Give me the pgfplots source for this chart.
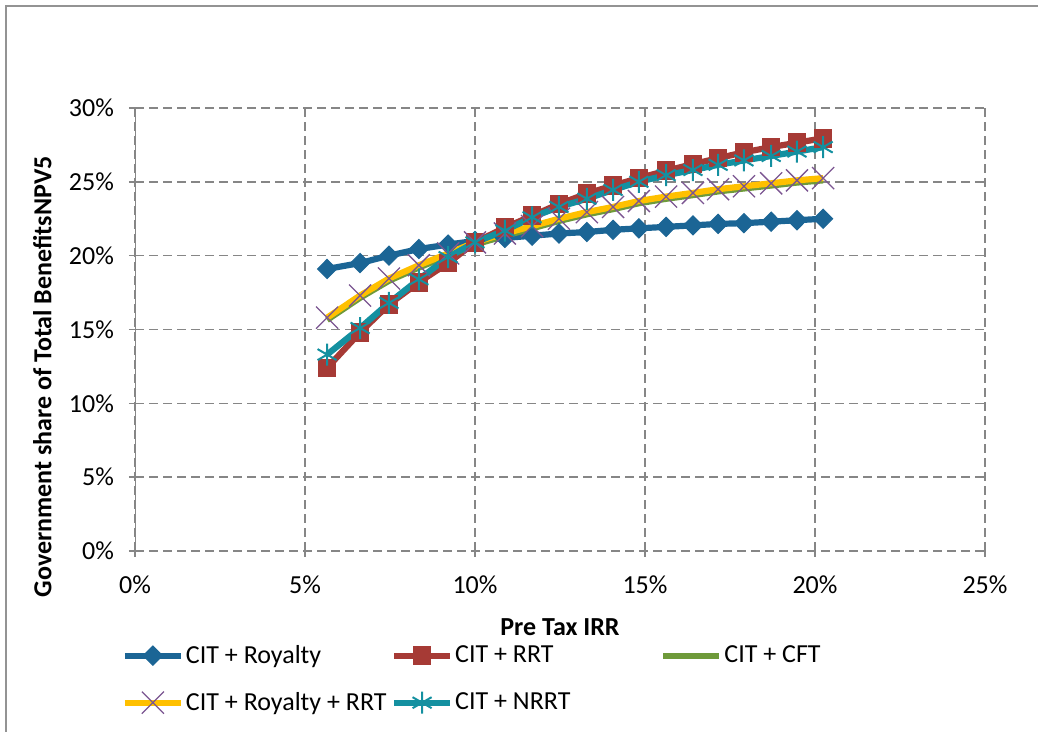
\documentclass[border=0pt]{standalone}
\usepackage{fontspec}
\setmainfont{Carlito}
\usepackage{pgfplots}
\pgfplotsset{compat=1.18}

\definecolor{cRoy}{HTML}{1B6595}
\definecolor{cRRT}{HTML}{A63A35}
\definecolor{cCFT}{HTML}{6E9A3A}
\definecolor{cRR}{HTML}{FFC000}
\definecolor{cX}{HTML}{7B5591}
\definecolor{cNRRT}{HTML}{1490A0}
\definecolor{gridgray}{HTML}{868686}

% pre tax IRR (%) and government share (%)
\pgfplotstableread{
irr    roy    rrt    cft    rr     nrrt
5.65   19.1   12.4   15.65  15.8   13.3
6.62   19.5   14.8   17.15  17.3   15.1
7.47   20.0   16.7   18.3   18.45  16.8
8.35   20.45  18.2   19.2   19.35  18.4
9.21   20.75  19.5   20.0   20.15  19.9
10.00  21.0   20.9   20.75  20.9   20.9
10.88  21.2   21.9   21.35  21.5   21.7
11.68  21.35  22.7   21.85  22.0   22.6
12.47  21.5   23.5   22.35  22.5   23.3
13.29  21.6   24.2   22.8   22.95  23.85
14.06  21.75  24.75  23.15  23.3   24.45
14.82  21.85  25.25  23.55  23.7   25.0
15.62  21.95  25.75  23.85  24.0   25.45
16.41  22.05  26.2   24.1   24.25  25.8
17.15  22.15  26.6   24.35  24.5   26.15
17.91  22.2   27.0   24.55  24.7   26.45
18.71  22.3   27.35  24.75  24.9   26.75
19.47  22.4   27.65  24.95  25.1   27.05
20.24  22.5   27.95  25.1   25.25  27.35
}\datatable

\begin{document}
\begin{tikzpicture}[x=1pt,y=1pt]
\path[use as bounding box] (0,0) rectangle (519,366);
\draw[gray!85, line width=1pt] (3,0) -- (3,363) -- (519,363);
\begin{axis}[
    at={(67.5pt,90.5pt)}, anchor=south west,
    scale only axis,
    width=425pt, height=221.5pt,
    xmin=0, xmax=25, ymin=0, ymax=30,
    xtick={0,5,...,25}, ytick={0,5,...,30},
    xticklabel={\pgfmathprintnumber{\tick}\%},
    yticklabel={\pgfmathprintnumber{\tick}\%},
    /pgf/number format/assume math mode=true,
    font=\fontsize{13}{15.6}\selectfont,
    axis line style={draw=none},
    tick align=center, major tick length=6pt,
    xtick pos=bottom, ytick pos=left,
    tick style={gridgray, line width=0.8pt},
    grid=major,
    major grid style={gridgray, line width=0.8pt, dash pattern=on 4.5pt off 2.5pt},
    xticklabel style={yshift=-6pt},
    yticklabel style={xshift=-4pt},
    xlabel={\bfseries Pre Tax IRR},
    ylabel={\bfseries Government share of Total BenefitsNPV5},
    xlabel style={at={(axis description cs:0.5,-0.172)}, anchor=center},
    ylabel style={at={(axis description cs:-0.109,0.393)}, anchor=center, rotate=0},
    legend columns=3,
    legend cell align=left,
    legend style={at={(axis description cs:-0.016,-0.207)}, anchor=north west,
        draw=none, fill=none, inner sep=0pt, column sep=0pt, row sep=11pt,
        nodes={inner sep=1pt}, font=\fontsize{13}{15.6}\selectfont},
    legend image code/.code={
        \draw[mark repeat=2,mark phase=2,#1]
        plot coordinates {(0pt,0pt) (14pt,0pt) (28pt,0pt)};},
    every axis plot/.append style={line width=3.1pt},
]
\draw[gridgray, line width=0.8pt] (rel axis cs:0,0) -- (rel axis cs:0,1);

\addplot[cRoy, mark=diamond*, mark size=4.8pt, mark options={xscale=1.33, line width=0.5pt}]
    table[x=irr, y=roy] {\datatable};
\addlegendentry{\makebox[101.5pt][l]{CIT + Royalty}}

\addplot[cRRT, mark=square*, mark size=4.4pt, mark options={line width=0.5pt}]
    table[x=irr, y=rrt] {\datatable};
\addlegendentry{\makebox[101.5pt][l]{CIT + RRT}}

\addplot[cCFT, mark=none]
    table[x=irr, y=cft] {\datatable};
\addlegendentry{\makebox[101.5pt][l]{CIT + CFT}}

\addplot[cRR, mark=x, mark size=7.8pt, mark options={draw=cX, line width=0.65pt}]
    table[x=irr, y=rr] {\datatable};
\addlegendentry{\makebox[101.5pt][l]{CIT + Royalty + RRT}}

\addplot[cNRRT, mark=asterisk, mark size=5.5pt, mark options={line width=1pt}]
    table[x=irr, y=nrrt] {\datatable};
\addlegendentry{\makebox[101.5pt][l]{CIT + NRRT}}
\end{axis}
\end{tikzpicture}
\end{document}
